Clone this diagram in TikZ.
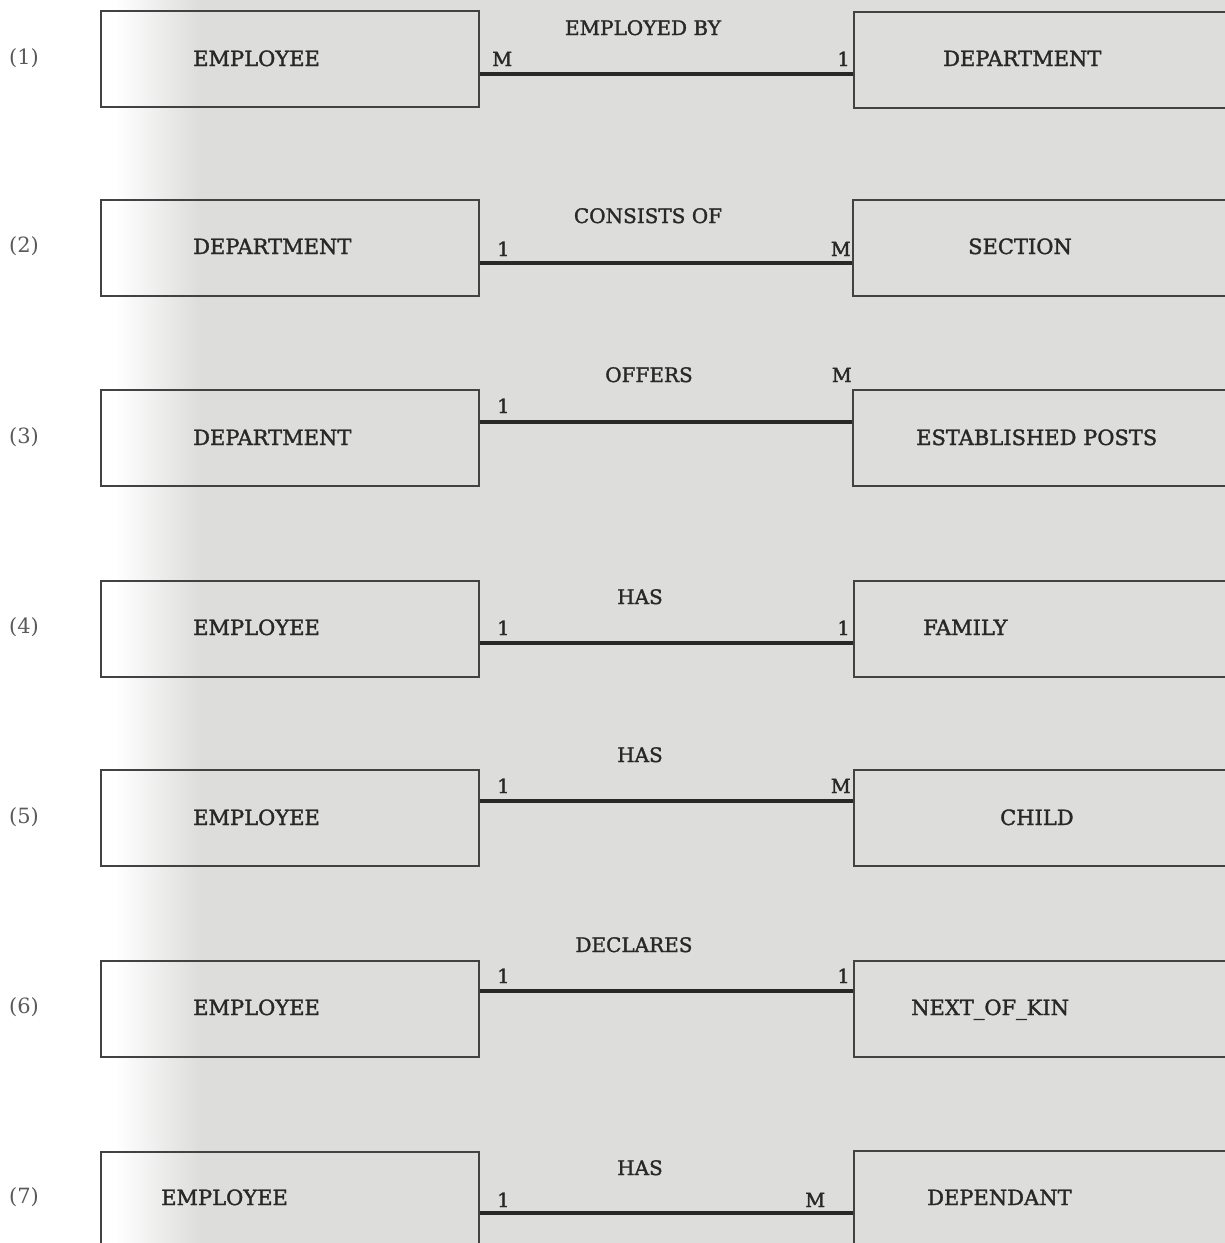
\documentclass[tikz,border=0pt]{standalone}
\usepackage{fontspec}
\setmainfont{DejaVu Serif}[BoldFont=DejaVu Serif, BoldFeatures={FakeBold=1.6}]
\definecolor{paper}{RGB}{221,221,220}
\definecolor{ink}{RGB}{40,40,40}
\definecolor{frame}{RGB}{66,66,66}
\definecolor{numink}{RGB}{90,90,90}
\begin{document}
\begin{tikzpicture}[x=1pt,y=-1pt,
  ebox/.style={draw=frame, line width=1.6pt, minimum width=378pt,
    minimum height=96pt, anchor=north west, inner sep=0pt},
  ename/.style={anchor=base west, text=ink, inner sep=0pt,
    font=\fontsize{21}{21}\selectfont\bfseries},
  rname/.style={anchor=base, text=ink, inner sep=0pt,
    font=\fontsize{20}{20}\selectfont\bfseries},
  cardl/.style={anchor=base west, text=ink, inner sep=0pt,
    font=\fontsize{19.5}{19.5}\selectfont\bfseries},
  cardr/.style={anchor=base east, text=ink, inner sep=0pt,
    font=\fontsize{19.5}{19.5}\selectfont\bfseries},
  rowno/.style={text=numink, inner sep=0pt,
    font=\fontsize{21}{21}\selectfont},
  rel/.style={draw=ink, line width=3.8pt}]

% page: white margin fading into the grey sheet
\useasboundingbox (0,0) rectangle (1225,1243);
\clip (0,0) rectangle (1225,1243);
\fill[white] (0,0) rectangle (1225,1243);
\shade[left color=white, right color=paper] (115,0) rectangle (200,1243);
\fill[paper] (199,0) rectangle (1225,1243);

% ---- (1) EMPLOYEE --M--1-- DEPARTMENT
\node[rowno] (n1) at (24,58) {(1)};
\node[ebox] (L1) at (100,10) {};
\node[ebox] (R1) at (853,11) {};
\node[ename] (L1t) at (193,66) {EMPLOYEE};
\node[ename] (R1t) at (943,66) {DEPARTMENT};
\draw[rel] ([yshift=-64pt]L1.north east) -- ([yshift=-63pt]R1.north west);
\node[rname] (r1) at (643,35) {EMPLOYED BY};
\node[cardl] (c1a) at (492,66) {M};
\node[cardr] (c1b) at (850,66) {1};

% ---- (2) DEPARTMENT --1--M-- SECTION
\node[rowno] (n2) at (24,246) {(2)};
\node[ebox] (L2) at (100,199) {};
\node[ebox] (R2) at (852,199) {};
\node[ename] (L2t) at (193,254) {DEPARTMENT};
\node[ename] (R2t) at (968,254) {SECTION};
\draw[rel] ([yshift=-64pt]L2.north east) -- ([yshift=-64pt]R2.north west);
\node[rname] (r2) at (648,223) {CONSISTS OF};
\node[cardl] (c2a) at (497,256) {1};
\node[cardr] (c2b) at (851,256) {M};

% ---- (3) DEPARTMENT --1--M-- ESTABLISHED POSTS
\node[rowno] (n3) at (24,437) {(3)};
\node[ebox] (L3) at (100,389) {};
\node[ebox] (R3) at (852,389) {};
\node[ename] (L3t) at (193,445) {DEPARTMENT};
\node[ename] (R3t) at (916,445) {ESTABLISHED POSTS};
\draw[rel] ([yshift=-33pt]L3.north east) -- ([yshift=-33pt]R3.north west);
\node[rname] (r3) at (649,382) {OFFERS};
\node[cardl] (c3a) at (497,413) {1};
\node[cardr] (c3b) at (852,382) {M};

% ---- (4) EMPLOYEE --1--1-- FAMILY
\node[rowno] (n4) at (24,627) {(4)};
\node[ebox] (L4) at (100,580) {};
\node[ebox] (R4) at (853,580) {};
\node[ename] (L4t) at (193,635) {EMPLOYEE};
\node[ename] (R4t) at (923,635) {FAMILY};
\draw[rel] ([yshift=-63pt]L4.north east) -- ([yshift=-63pt]R4.north west);
\node[rname] (r4) at (640,604) {HAS};
\node[cardl] (c4a) at (497,635) {1};
\node[cardr] (c4b) at (850,635) {1};

% ---- (5) EMPLOYEE --1--M-- CHILD
\node[rowno] (n5) at (24,817) {(5)};
\node[ebox] (L5) at (100,769) {};
\node[ebox] (R5) at (853,769) {};
\node[ename] (L5t) at (193,825) {EMPLOYEE};
\node[ename] (R5t) at (1000,825) {CHILD};
\draw[rel] ([yshift=-32pt]L5.north east) -- ([yshift=-32pt]R5.north west);
\node[rname] (r5) at (640,762) {HAS};
\node[cardl] (c5a) at (497,793) {1};
\node[cardr] (c5b) at (851,793) {M};

% ---- (6) EMPLOYEE --1--1-- NEXT_OF_KIN
\node[rowno] (n6) at (24,1007) {(6)};
\node[ebox] (L6) at (100,960) {};
\node[ebox] (R6) at (853,960) {};
\node[ename] (L6t) at (193,1015) {EMPLOYEE};
\node[ename] (R6t) at (911,1015) {NEXT\_OF\_KIN};
\draw[rel] ([yshift=-31pt]L6.north east) -- ([yshift=-31pt]R6.north west);
\node[rname] (r6) at (634,952) {DECLARES};
\node[cardl] (c6a) at (497,983) {1};
\node[cardr] (c6b) at (850,983) {1};

% ---- (7) EMPLOYEE --1--M-- DEPENDANT
\node[rowno] (n7) at (24,1197) {(7)};
\node[ebox] (L7) at (100,1151) {};
\node[ebox] (R7) at (853,1150) {};
\node[ename] (L7t) at (161,1205) {EMPLOYEE};
\node[ename] (R7t) at (927,1205) {DEPENDANT};
\draw[rel] ([yshift=-62pt]L7.north east) -- ([yshift=-63pt]R7.north west);
\node[rname] (r7) at (640,1175) {HAS};
\node[cardl] (c7a) at (497,1207) {1};
\node[cardl] (c7b) at (805,1207) {M};
\end{tikzpicture}
\end{document}
